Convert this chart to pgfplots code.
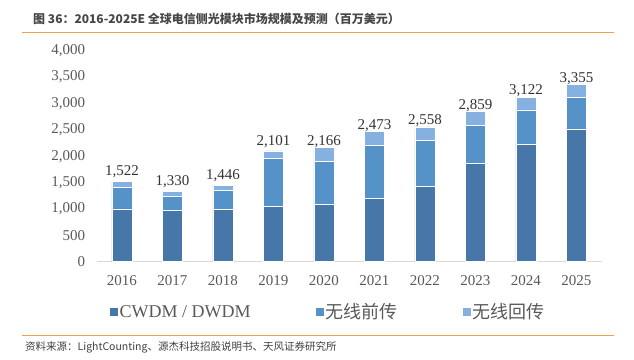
\documentclass[border=0pt]{standalone}
\usepackage{pgfplots}
\pgfplotsset{compat=1.18}
\usepackage{pgfplotstable}
\usepackage{fontspec}
\setmainfont{Liberation Serif}
\newfontfamily\cjk{Noto Sans CJK SC}
\definecolor{cA}{HTML}{4677A8}
\definecolor{cB}{HTML}{5592C8}
\definecolor{cC}{HTML}{85B0DF}
\definecolor{txt}{HTML}{595959}
\definecolor{orangeline}{HTML}{F4A04A}
\pgfplotstableread{
x cw fr bk tot
0 1000 403 119 1522
1 980 252 98 1330
2 993 353 100 1446
3 1043 910 148 2101
4 1088 815 263 2166
5 1194 1012 267 2473
6 1435 866 257 2558
7 1871 720 268 2859
8 2218 658 246 3122
9 2516 600 239 3355
}\datatable
\pgfplotsset{sqleg/.style={legend image code/.code={\fill[##1,draw=none] (0pt,-4pt) rectangle (8pt,4pt);}}}
\begin{document}
\begin{tikzpicture}
\useasboundingbox (0,0) rectangle (634pt,359pt);
\node[anchor=west,inner sep=0,text=txt!80!black] at (33pt,340pt) {\cjk\bfseries\fontsize{12}{14}\selectfont 图 36：2016-2025E 全球电信侧光模块市场规模及预测（百万美元）};
\draw[orangeline,line width=1pt] (22pt,326pt) -- (614pt,326pt);
\draw[orangeline,line width=1pt] (22pt,23.3pt) -- (614pt,23.3pt);
\node[anchor=west,inner sep=0,text=black!75] at (25pt,12pt) {\cjk\fontsize{10.5}{12}\selectfont 资料来源：LightCounting、源杰科技招股说明书、天风证券研究所};
\begin{axis}[
  at={(96.7pt,97.3pt)}, anchor=south west, scale only axis,
  width=505pt, height=211pt,
  ybar stacked, bar width=20pt,
  ymin=0, ymax=4000, xmin=-0.5, xmax=9.5,
  xtick={0,...,9},
  xticklabels={2016,2017,2018,2019,2020,2021,2022,2023,2024,2025},
  ytick={0,500,...,4000},
  axis x line=bottom, axis y line=left, axis line style={-},
  y axis line style={draw=none},
  x axis line style={draw=black!15,line width=0.8pt},
  major tick length=0pt,
  scaled y ticks=false,
  /pgf/number format/assume math mode=true,
  /pgf/number format/1000 sep={,},
  tick label style={font=\fontsize{15}{15}\selectfont, text=txt},
  yticklabel style={xshift=-8pt},
  xticklabel style={yshift=-10pt},
  legend columns=3,
  legend style={at={(axis description cs:0.025,-0.238)}, anchor=west, draw=none, fill=none, inner sep=0pt,
    font=\fontsize{18}{18}\selectfont, text=txt,
    /tikz/every even column/.append style={column sep=63pt}},
  legend cell align=left,
]
\addplot[fill=cA, draw=white, line width=0.5pt, sqleg] table[x=x,y=cw]{\datatable};
\addlegendentry{CWDM / DWDM}
\addplot[fill=cB, draw=white, line width=0.5pt, sqleg] table[x=x,y=fr]{\datatable};
\addlegendentry{\cjk 无线前传}
\addplot[fill=cC, draw=white, line width=0.5pt, sqleg,
  point meta=explicit, nodes near coords,
  every node near coord/.append style={anchor=south, yshift=3pt, font=\fontsize{15}{15}\selectfont, text=black!80}]
  table[x=x,y=bk,meta=tot]{\datatable};
\addlegendentry{\cjk 无线回传}
\end{axis}
\end{tikzpicture}
\end{document}
